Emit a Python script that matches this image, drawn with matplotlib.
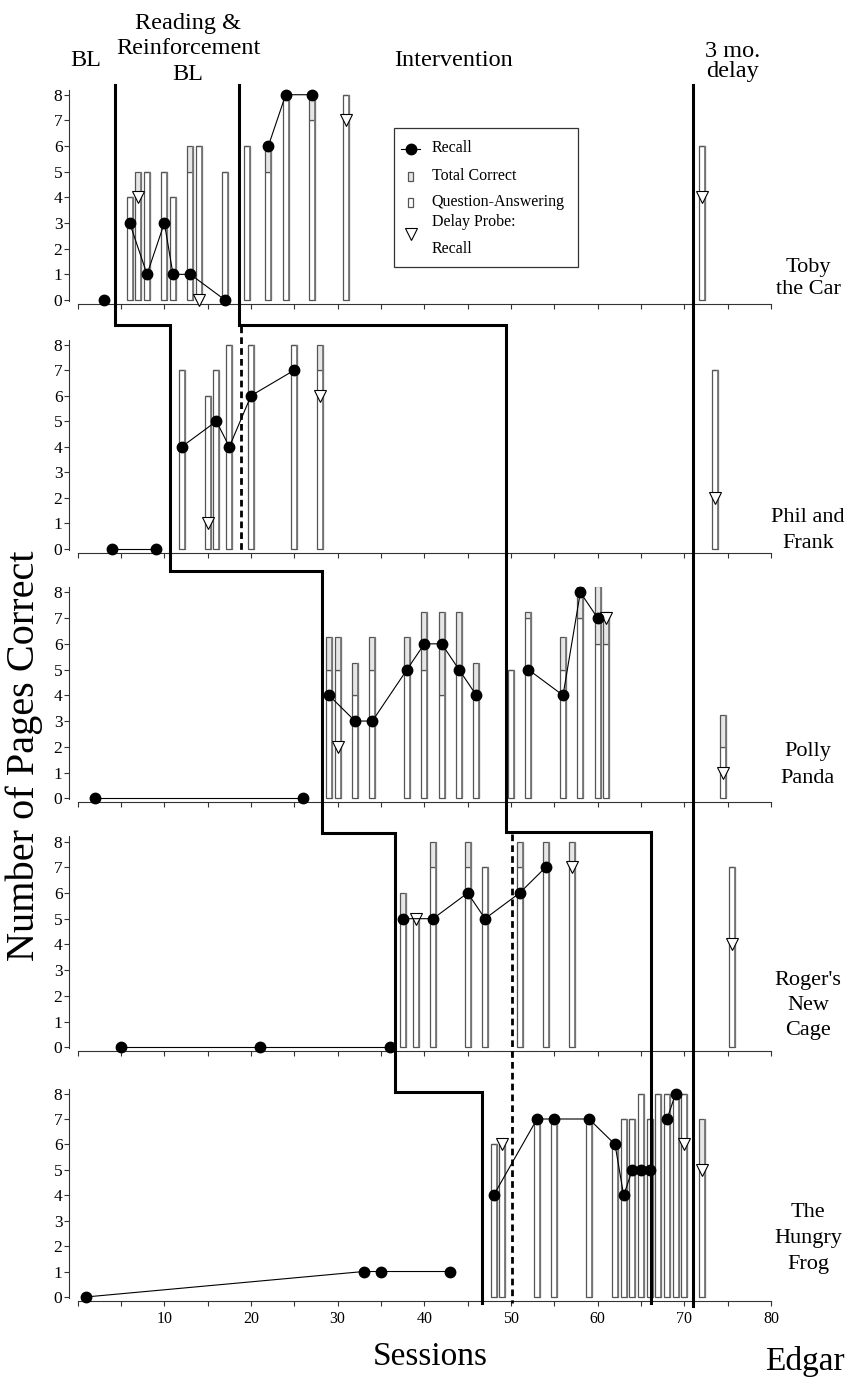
import matplotlib
matplotlib.use('Agg')
import matplotlib.pyplot as plt
from matplotlib.lines import Line2D
from matplotlib.patches import Rectangle
from matplotlib.transforms import Affine2D

plt.rcParams['font.family'] = ['Liberation Serif', 'DejaVu Serif']

# ---------------- data ----------------
books = ["Toby\nthe Car", "Phil and\nFrank", "Polly\nPanda", "Roger's\nNew\nCage", "The\nHungry\nFrog"]

# recall (connected segments) per book
toby_recall = [([3], [0]), ([6, 8, 10, 11, 13, 17], [3, 1, 3, 1, 1, 0]), ([22, 24, 27], [6, 8, 8])]
phil_recall = [([4, 9], [0, 0]), ([12, 16, 17.5, 20, 25], [4, 5, 4, 6, 7])]
polly_recall = [([2, 26], [0, 0]), ([29, 32, 34, 38, 40, 42, 44, 46], [4, 3, 3, 5, 6, 6, 5, 4]),
                ([52, 56, 58, 60], [5, 4, 8, 7])]
roger_recall = [([5, 21, 36], [0, 0, 0]), ([37.5, 41, 45, 47, 51, 54], [5, 5, 6, 5, 6, 7])]
frog_recall = [([1, 33, 35, 43], [0, 1, 1, 1]), ([48, 53, 55, 59, 62, 63, 64, 65, 66], [4, 7, 7, 7, 6, 4, 5, 5, 5]),
               ([68, 69], [7, 8])]

# bars: sessions, question-answering, total correct
toby_bar_x = [6, 7, 8, 10, 11, 13, 14, 17, 19.5, 22, 24, 27, 31, 72]
toby_qa = [4, 4, 5, 5, 4, 5, 6, 5, 6, 5, 8, 7, 8, 6]
toby_total = [4, 5, 5, 5, 4, 6, 6, 5, 6, 6, 8, 8, 8, 6]

phil_bar_x = [12, 15, 16, 17.5, 20, 25, 28, 73.5]
phil_qa = [7, 6, 7, 8, 8, 8, 7, 7]
phil_total = [7, 6, 7, 8, 8, 8, 8, 7]

polly_bar_x = [29, 30, 32, 34, 38, 40, 42, 44, 46, 50, 52, 56, 58, 60, 61, 74.5]
polly_qa = [5, 5, 4, 5, 5, 5, 4, 5, 4, 5, 7, 5, 7, 6, 6, 2]
polly_total = [6.25, 6.25, 5.25, 6.25, 6.25, 7.25, 7.25, 7.25, 5.25, 5, 7.25, 6.25, 8.25, 8.25, 7.25, 3.25]

roger_bar_x = [37.5, 39, 41, 45, 47, 51, 54, 57, 75.5]
roger_qa = [5, 5, 7, 7, 7, 7, 7, 7, 7]
roger_total = [6, 5, 8, 8, 7, 8, 8, 8, 7]

frog_bar_x = [48, 49, 53, 55, 59, 62, 63, 64, 65, 66, 67, 68, 69, 70, 72]
frog_qa = [6, 6, 7, 7, 7, 6, 7, 7, 8, 7, 8, 8, 8, 8, 5]
frog_total = [6, 6, 7, 7, 7, 6, 7, 7, 8, 7, 8, 8, 8, 8, 7]

# delay probe recall
toby_delay = ([7, 14, 31, 72], [4, 0, 7, 4])
phil_delay = ([15, 28, 73.5], [1, 6, 2])
polly_delay = ([30, 61, 74.5], [2, 7, 1])
roger_delay = ([39, 57, 75.5], [5, 7, 4])
frog_delay = ([49, 70, 72], [6, 6, 5])

recalls = [toby_recall, phil_recall, polly_recall, roger_recall, frog_recall]
bar_xs = [toby_bar_x, phil_bar_x, polly_bar_x, roger_bar_x, frog_bar_x]
qas = [toby_qa, phil_qa, polly_qa, roger_qa, frog_qa]
totals = [toby_total, phil_total, polly_total, roger_total, frog_total]
delays = [toby_delay, phil_delay, polly_delay, roger_delay, frog_delay]

# phase change lines (session positions)
lineA_x = [4.3, 10.65, 28.2, 36.6, 46.6]
lineB_x = [18.6, 49.4, 66.2]
lineC_x = 71.0
dash1_x = 18.9
dash2_x = 50.1

x_ticks = list(range(0, 81, 5))
y_ticks = list(range(0, 9))

# ---------------- layout ----------------
W, H = 853, 1379
fig = plt.figure(figsize=(W / 100, H / 100), dpi=100)
T = Affine2D().scale(1.0 / W, -1.0 / H).translate(0, 1) + fig.transFigure  # top-left pixel coords

ax_left, ax_right = 77.7, 771.0
panel_px = [(89.6, 304.1), (339.5, 553.1), (587.2, 802.4), (836.4, 1051.4), (1088.5, 1301.0)]
YLIM = (-0.16, 8.2)
BW = 0.72

axes = []
for i, (top, bot) in enumerate(panel_px):
    ax = fig.add_axes([ax_left / W, 1 - bot / H, (ax_right - ax_left) / W, (bot - top) / H])
    ax.set_xlim(0, 80)
    ax.set_ylim(*YLIM)
    ax.patch.set_alpha(0)
    for s in ['top', 'right']:
        ax.spines[s].set_visible(False)
    ax.spines['left'].set_position(('outward', 6))
    ax.spines['left'].set_bounds(-0.03, 8.2)
    ax.spines['left'].set_linewidth(0.8)
    ax.spines['bottom'].set_linewidth(0.8)
    ax.spines['left'].set_color('#333333')
    ax.spines['bottom'].set_color('#333333')
    ax.set_yticks(y_ticks)
    ax.set_xticks(x_ticks)
    ax.tick_params(axis='y', direction='out', length=3.5, width=0.8, labelsize=12.5, pad=1.5, colors='#333333',
                   labelcolor='black')
    ax.tick_params(axis='x', direction='out', length=3.5, width=0.8, labelsize=11.5, pad=4, colors='#333333',
                   labelcolor='black')
    if i == 4:
        ax.set_xticklabels([str(t) if (t % 10 == 0 and t > 0) else '' for t in x_ticks])
    else:
        ax.set_xticklabels([])

    # bars
    bx, qa, tot = bar_xs[i], qas[i], totals[i]
    ax.bar(bx, qa, width=BW, color='white', edgecolor='#555555', linewidth=0.9, zorder=2)
    extra = [t - q for t, q in zip(tot, qa)]
    ax.bar(bx, extra, bottom=qa, width=BW, color='#e6e6e6', edgecolor='#555555', linewidth=0.9, zorder=2)
    # darker right edge (shadow) of each bar
    ax.vlines([x + BW / 2 for x in bx], 0, tot, color='#777777', lw=1.3, zorder=2.1)

    # recall
    for xs, ys in recalls[i]:
        ax.plot(xs, ys, color='black', lw=0.8, marker='o', ms=7.5, mfc='black', mec='black', zorder=5,
                clip_on=False)
    # delay probes
    dx, dy = delays[i]
    ax.plot(dx, dy, ls='none', marker='v', ms=8.5, mfc='white', mec='black', mew=0.8, zorder=4, clip_on=False)
    axes.append(ax)


def xp(ax, x):
    return ax.transData.transform((x, 0))[0]


lw_phase = 2.2
# Line A (BL -> Reading & Reinforcement BL)
stepsA = [325, 571, 833, 1092]
ptsA = [(xp(axes[0], lineA_x[0]), 85)]
for k in range(4):
    ptsA.append((xp(axes[k], lineA_x[k]), stepsA[k]))
    ptsA.append((xp(axes[k + 1], lineA_x[k + 1]), stepsA[k]))
ptsA.append((xp(axes[4], lineA_x[4]), 1303))
fig.add_artist(Line2D([p[0] for p in ptsA], [p[1] for p in ptsA], transform=T, color='black', lw=lw_phase,
                      solid_joinstyle='miter'))

# Line B (Reading & Reinforcement BL -> Intervention)
ptsB = [(xp(axes[0], lineB_x[0]), 85), (xp(axes[0], lineB_x[0]), 325), (xp(axes[1], lineB_x[1]), 325),
        (xp(axes[2], lineB_x[1]), 832), (xp(axes[3], lineB_x[2]), 832), (xp(axes[4], lineB_x[2]), 1303)]
fig.add_artist(Line2D([p[0] for p in ptsB], [p[1] for p in ptsB], transform=T, color='black', lw=lw_phase,
                      solid_joinstyle='miter'))

# Line C (3 mo. delay)
xc = xp(axes[0], lineC_x)
fig.add_artist(Line2D([xc, xc], [85, 1306], transform=T, color='black', lw=lw_phase))

# dashed lines
xd1 = xp(axes[1], dash1_x)
fig.add_artist(Line2D([xd1, xd1], [326, 553], transform=T, color='black', lw=2.0, ls=(0, (2.4, 1.5))))
xd2 = xp(axes[3], dash2_x)
fig.add_artist(Line2D([xd2, xd2], [834, 1303], transform=T, color='black', lw=2.0, ls=(0, (2.4, 1.5))))

# ---------------- texts ----------------
hfs = 17.5
fig.text(86, 66, "BL", transform=T, ha='center', va='baseline', fontsize=hfs)
for txt, yb in zip(["Reading &", "Reinforcement", "BL"], [29, 54, 80]):
    fig.text(188, yb, txt, transform=T, ha='center', va='baseline', fontsize=hfs)
fig.text(454, 66, "Intervention", transform=T, ha='center', va='baseline', fontsize=hfs)
for txt, yb in zip(["3 mo.", "delay"], [57, 77]):
    fig.text(733, yb, txt, transform=T, ha='center', va='baseline', fontsize=hfs)

label_baselines = [[272, 294], [522, 548], [756, 783], [985, 1010, 1035], [1217, 1243, 1269]]
for name, bls in zip(books, label_baselines):
    for line, yb in zip(name.split("\n"), bls):
        fig.text(808, yb, line, transform=T, ha='center', va='baseline', fontsize=16)

fig.text(430, 1365, "Sessions", transform=T, ha='center', va='baseline', fontsize=24)
fig.text(805, 1370, "Edgar", transform=T, ha='center', va='baseline', fontsize=24)
fig.text(24, 756, "Number of Pages Correct", transform=T, ha='center', va='center', rotation=90, fontsize=29)

# ---------------- legend ----------------
fig.add_artist(Rectangle((394.3, 128.3), 184, 138.4, transform=T, fill=False, edgecolor='#333333', lw=0.9))
lfs = 11.5
fig.add_artist(Line2D([401.5, 420.5], [148.5, 148.5], transform=T, color='black', lw=0.8))
fig.add_artist(Line2D([411], [148.5], transform=T, color='black', marker='o', ms=7.5, mfc='black', ls='none'))
fig.text(431.7, 148.5, "Recall", transform=T, ha='left', va='center', fontsize=lfs)
fig.add_artist(Rectangle((408, 171.5), 5.5, 9, transform=T, facecolor='#e6e6e6', edgecolor='#555555', lw=0.9))
fig.text(431.7, 176, "Total Correct", transform=T, ha='left', va='center', fontsize=lfs)
fig.add_artist(Rectangle((408, 198), 5.5, 9, transform=T, facecolor='white', edgecolor='#555555', lw=0.9))
fig.text(431.7, 202.5, "Question-Answering", transform=T, ha='left', va='center', fontsize=lfs)
fig.add_artist(Line2D([411], [234], transform=T, marker='v', ms=8.5, mfc='white', mec='black', mew=0.8, ls='none'))
fig.text(431.7, 221.5, "Delay Probe:", transform=T, ha='left', va='center', fontsize=lfs)
fig.text(431.7, 249, "Recall", transform=T, ha='left', va='center', fontsize=lfs)

fig.savefig("out.png", dpi=100)
